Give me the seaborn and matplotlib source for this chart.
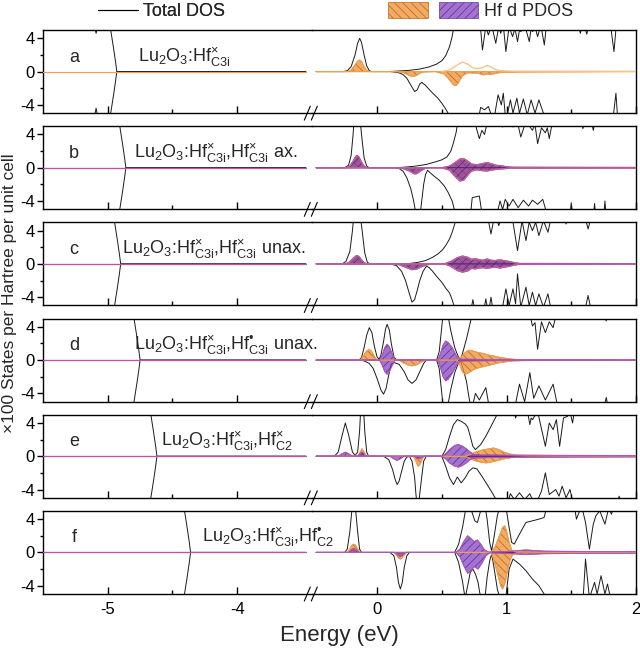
import matplotlib
matplotlib.use("Agg")
import matplotlib.pyplot as plt
import seaborn as sns
import pandas as pd
from matplotlib.patches import Patch
from matplotlib.lines import Line2D
from matplotlib.legend_handler import HandlerTuple

# ---- data: (energy eV, DOS x100 states/Hartree/cell); values > 5 run off the panel ----
# panel a  Lu2O3:Hf(x)C3i
a_tot_up = [(-5.5, 6), (-5.11, 6), (-5.09, 4.6), (-5.07, 6), (-4.99, 6), (-4.975, 4.8), (-4.955, 2.8),
            (-4.94, 1.2), (-4.93, 0), (-3.47, 0),
            (-0.47, 0), (-0.26, 0), (-0.23, 0.1), (-0.20, 0.6), (-0.17, 2.0), (-0.15, 3.4), (-0.134, 4.0),
            (-0.12, 3.5), (-0.10, 2.0), (-0.08, 0.7), (-0.06, 0.1), (-0.04, 0), (0.08, 0), (0.15, 0.05),
            (0.25, 0.15), (0.33, 0.3), (0.40, 0.55), (0.46, 0.9), (0.50, 1.3), (0.53, 1.9), (0.56, 3.0),
            (0.58, 4.2), (0.60, 6), (0.795, 6), (0.814, 2.6), (0.84, 5.4), (0.86, 4.4), (0.885, 5.6),
            (0.917, 3.4), (0.94, 5.4), (0.955, 4.6), (0.975, 5.6), (0.995, 2.4), (1.02, 5.4), (1.047, 4.2),
            (1.065, 5.2), (1.085, 3.6), (1.10, 5.0), (1.111, 4.8), (1.14, 5.6), (1.176, 3.6), (1.19, 5.2),
            (1.202, 4.8), (1.22, 5.4), (1.24, 4.2), (1.265, 5.6), (1.292, 3.2), (1.31, 5.8), (1.33, 6),
            (1.55, 6), (1.57, 4.6), (1.59, 6), (1.62, 4.5), (1.64, 6), (1.80, 6), (1.83, 2.4), (1.85, 6),
            (2.0, 6)]
a_tot_dn = [(-5.5, -6), (-5.11, -6), (-5.09, -4.4), (-5.07, -6), (-4.99, -6), (-4.975, -4.8),
            (-4.955, -2.8), (-4.94, -1.2), (-4.93, 0), (-3.47, 0),
            (-0.47, 0), (0.10, 0), (0.16, -0.1), (0.20, -0.35), (0.23, -0.8), (0.26, -1.6), (0.29, -2.4),
            (0.31, -2.2), (0.33, -1.5), (0.345, -1.3), (0.37, -1.6), (0.40, -2.1), (0.43, -2.6), (0.47, -3.2),
            (0.50, -3.8), (0.53, -4.5), (0.56, -5.3), (0.58, -6), (0.78, -6), (0.80, -4.3), (0.83, -4.6),
            (0.86, -4.2), (0.90, -6), (0.935, -2.8), (0.96, -4.0), (0.975, -2.6), (0.995, -6), (1.03, -3.4),
            (1.05, -5.0), (1.08, -3.2), (1.10, -5.0), (1.13, -3.3), (1.16, -5.2), (1.19, -3.4), (1.22, -5.0),
            (1.25, -3.4), (1.28, -4.8), (1.31, -6), (1.82, -6), (1.845, -2.6), (1.86, -6), (2.0, -6)]
a_or_up = [(-5.5, 0), (-3.47, 0), (-0.47, 0), (-0.23, 0), (-0.20, 0.2), (-0.17, 0.8), (-0.15, 1.25),
           (-0.135, 1.4), (-0.12, 1.2), (-0.10, 0.6), (-0.08, 0.15), (-0.06, 0), (2.0, 0)]
a_or_dn = [(-5.5, 0), (-3.47, 0), (-0.47, 0), (0.15, 0), (0.20, -0.1), (0.24, -0.4), (0.27, -0.6), (0.30, -0.5),
           (0.33, -0.2), (0.36, -0.05), (0.45, 0), (0.52, -0.3), (0.56, -1.0), (0.59, -1.6), (0.61, -1.7),
           (0.63, -1.3), (0.66, -0.5), (0.70, -0.15), (0.78, -0.2), (0.82, -0.4), (0.85, -0.3), (0.88, -0.35),
           (0.92, -0.2), (0.96, -0.1), (1.1, -0.05), (2.0, 0)]
a_or_open = [(0.50, 0), (0.56, 0.2), (0.62, 0.8), (0.66, 1.15), (0.70, 0.9), (0.74, 0.45), (0.78, 0.35),
             (0.82, 0.5), (0.85, 0.75), (0.88, 0.55), (0.92, 0.2), (0.96, 0.1), (1.05, 0.05), (2.0, 0.03)]

# panel b  Lu2O3:Hf(x)C3i,Hf(x)C3i ax.
b_tot_up = [(-5.5, 6), (-4.92, 6), (-4.905, 4.8), (-4.885, 2.8), (-4.87, 1.2), (-4.86, 0), (-3.47, 0),
            (-0.47, 0), (-0.25, 0), (-0.22, 0.3), (-0.20, 1.5), (-0.185, 4), (-0.175, 6.5), (-0.155, 8),
            (-0.135, 6.5), (-0.12, 4), (-0.10, 1.2), (-0.08, 0.2), (-0.06, 0), (0.10, 0), (0.20, 0.05),
            (0.30, 0.2), (0.38, 0.4), (0.45, 0.7), (0.50, 0.95), (0.54, 1.3), (0.57, 2.0), (0.59, 3.0),
            (0.61, 4.2), (0.63, 6), (0.75, 6), (0.77, 4.6), (0.79, 3.5), (0.81, 4.5), (0.83, 4.0), (0.86, 6),
            (0.95, 6), (0.97, 4.9), (0.99, 6), (1.03, 5.6), (1.05, 4.9), (1.08, 5.8), (1.11, 3.7), (1.15, 5.6),
            (1.20, 4.5), (1.22, 5.2), (1.24, 2.9), (1.27, 4.8), (1.30, 4.2), (1.315, 4.8), (1.33, 3.5),
            (1.36, 6), (1.57, 6), (1.59, 4.7), (1.61, 6), (1.65, 6), (1.67, 4.5), (1.69, 6), (2.0, 6)]
b_tot_dn = [(-5.5, -6), (-4.92, -6), (-4.905, -4.8), (-4.885, -2.8), (-4.87, -1.2), (-4.86, 0), (-3.47, 0),
            (-0.47, 0), (0.12, 0), (0.17, -0.1), (0.20, -0.4), (0.23, -1.2), (0.26, -2.5), (0.28, -3.8),
            (0.30, -5.5), (0.31, -6), (0.33, -6), (0.345, -4), (0.36, -2), (0.375, -0.8), (0.39, -0.3),
            (0.41, -0.6), (0.44, -1.0), (0.48, -1.5), (0.52, -2.2), (0.55, -3.0), (0.58, -4.0), (0.60, -5.2),
            (0.62, -6), (0.72, -6), (0.735, -3.6), (0.79, -3.4), (0.815, -6), (0.92, -6), (0.95, -4.0),
            (0.97, -5.0), (0.99, -3.8), (1.02, -4.6), (1.05, -3.8), (1.09, -4.8), (1.13, -3.9), (1.17, -4.6),
            (1.20, -3.9), (1.24, -4.4), (1.28, -3.8), (1.32, -6), (1.49, -6), (1.50, -4.2), (1.51, -6),
            (1.67, -6), (1.68, -4.3), (1.69, -6), (1.75, -6), (1.76, -4.0), (1.77, -6), (2.0, -6)]
b_hf_up = [(-5.5, 0), (-3.47, 0), (-0.47, 0), (-0.24, 0), (-0.21, 0.2), (-0.185, 0.8), (-0.165, 1.35),
           (-0.155, 1.5), (-0.14, 1.3), (-0.12, 0.7), (-0.10, 0.2), (-0.08, 0), (0.50, 0), (0.56, 0.2),
           (0.60, 0.6), (0.64, 1.05), (0.67, 1.1), (0.70, 0.8), (0.73, 0.45), (0.77, 0.35), (0.81, 0.5),
           (0.85, 0.62), (0.88, 0.5), (0.92, 0.3), (0.96, 0.25), (1.0, 0.12), (1.05, 0.06), (1.5, 0.05),
           (2.0, 0.04)]
b_hf_dn = [(-5.5, 0), (-3.47, 0), (-0.47, 0), (0.15, 0), (0.20, -0.1), (0.25, -0.4), (0.29, -0.75),
           (0.31, -0.7), (0.34, -0.35), (0.37, -0.1), (0.40, 0), (0.50, 0), (0.56, -0.3), (0.60, -1.0),
           (0.64, -1.6), (0.67, -1.5), (0.70, -0.9), (0.73, -0.4), (0.77, -0.25), (0.81, -0.35), (0.85, -0.4),
           (0.88, -0.3), (0.92, -0.2), (0.96, -0.15), (1.0, -0.1), (1.05, -0.06), (2.0, -0.04)]

# panel c  Lu2O3:Hf(x)C3i,Hf(x)C3i unax.
c_tot_up = [(-5.5, 6), (-4.96, 6), (-4.945, 4.8), (-4.925, 2.8), (-4.91, 1.2), (-4.90, 0), (-3.47, 0),
            (-0.47, 0), (-0.27, 0), (-0.24, 0.3), (-0.21, 1.5), (-0.19, 4), (-0.175, 6.5), (-0.155, 8),
            (-0.135, 6.5), (-0.115, 4), (-0.095, 1.3), (-0.075, 0.2), (-0.055, 0), (0.15, 0), (0.25, 0.05),
            (0.32, 0.2), (0.375, 0.4), (0.43, 0.8), (0.47, 1.2), (0.50, 1.6), (0.53, 2.2), (0.56, 3.0),
            (0.58, 3.8), (0.60, 4.8), (0.62, 6), (0.85, 6), (0.88, 3.6), (0.91, 6), (0.94, 4.6), (0.97, 6),
            (1.04, 6), (1.085, 1.6), (1.12, 5.2), (1.15, 2.8), (1.175, 5.0), (1.20, 4.0), (1.225, 5.0),
            (1.25, 3.4), (1.285, 5.2), (1.32, 3.8), (1.35, 6), (1.44, 6), (1.46, 4.8), (1.48, 6), (1.60, 6),
            (1.63, 4.2), (1.66, 6), (2.0, 6)]
c_tot_dn = [(-5.5, -6), (-4.96, -6), (-4.945, -4.8), (-4.925, -2.8), (-4.91, -1.2), (-4.90, 0), (-3.47, 0),
            (-0.47, 0), (0.10, 0), (0.15, -0.2), (0.19, -0.9), (0.22, -2.0), (0.25, -3.6), (0.27, -4.6),
            (0.29, -4.3), (0.31, -3.2), (0.33, -2.0), (0.355, -0.9), (0.38, -0.3), (0.40, -0.4), (0.43, -0.9),
            (0.46, -1.5), (0.50, -2.2), (0.53, -2.9), (0.56, -3.5), (0.58, -4.3), (0.60, -5.3), (0.62, -6),
            (0.72, -6), (0.74, -4.3), (0.76, -6), (0.82, -6), (0.84, -4.2), (0.86, -6), (0.88, -4.0),
            (0.90, -6), (0.96, -6), (0.995, -3.0), (1.02, -5.0), (1.05, -3.0), (1.07, -4.8), (1.085, -1.2),
            (1.11, -5.2), (1.15, -2.8), (1.175, -5.0), (1.20, -3.4), (1.225, -5.0), (1.25, -3.6),
            (1.285, -5.2), (1.32, -3.6), (1.35, -6), (1.60, -6), (1.63, -3.8), (1.66, -6), (2.0, -6)]
c_hf_up = [(-5.5, 0), (-3.47, 0), (-0.47, 0), (-0.25, 0), (-0.22, 0.15), (-0.19, 0.6), (-0.165, 0.95),
           (-0.155, 1.0), (-0.14, 0.9), (-0.12, 0.5), (-0.10, 0.15), (-0.08, 0), (0.52, 0), (0.57, 0.3),
           (0.62, 0.75), (0.66, 0.95), (0.70, 0.8), (0.73, 0.55), (0.76, 0.65), (0.79, 0.5), (0.82, 0.45),
           (0.85, 0.6), (0.88, 0.45), (0.91, 0.4), (0.95, 0.5), (0.98, 0.4), (1.02, 0.3), (1.06, 0.15),
           (1.10, 0.06), (2.0, 0.04)]
c_hf_dn = [(-5.5, 0), (-3.47, 0), (-0.47, 0), (0.12, 0), (0.17, -0.1), (0.22, -0.4), (0.27, -0.7),
           (0.31, -0.6), (0.35, -0.3), (0.39, -0.1), (0.42, 0), (0.52, 0), (0.57, -0.3), (0.62, -0.8),
           (0.66, -1.0), (0.70, -0.85), (0.73, -0.55), (0.76, -0.6), (0.79, -0.5), (0.82, -0.45), (0.85, -0.55),
           (0.88, -0.45), (0.91, -0.4), (0.95, -0.5), (0.98, -0.4), (1.02, -0.3), (1.06, -0.15), (1.10, -0.06),
           (2.0, -0.04)]

# panel d  Lu2O3:Hf(x)C3i,Hf(*)C3i unax.
d_tot_up = [(-5.5, 6), (-4.81, 6), (-4.795, 4.8), (-4.775, 2.8), (-4.76, 1.2), (-4.75, 0), (-3.47, 0),
            (-0.47, 0), (-0.14, 0), (-0.12, 0.3), (-0.10, 1.5), (-0.08, 3.0), (-0.06, 3.9), (-0.04, 3.3),
            (-0.02, 1.6), (0.0, 0.4), (0.015, 0.1), (0.03, 0.6), (0.05, 2.2), (0.065, 3.7), (0.078, 4.3),
            (0.095, 3.6), (0.11, 2.0), (0.13, 0.4), (0.15, 0), (0.46, 0), (0.48, 1.0), (0.50, 4), (0.52, 7),
            (0.54, 6), (0.57, 3.5), (0.60, 1.5), (0.63, 0.3), (0.645, 0.1), (0.66, 0.8), (0.69, 2.5),
            (0.72, 4.5), (0.74, 6), (0.82, 6), (0.84, 4.9), (0.86, 6), (1.08, 6), (1.10, 4.9), (1.12, 6),
            (1.18, 5.6), (1.20, 4.1), (1.22, 4.5), (1.24, 1.3), (1.27, 4.6), (1.30, 3.3), (1.33, 4.6),
            (1.36, 3.9), (1.39, 6), (1.75, 6), (1.77, 4.7), (1.79, 6), (2.0, 6)]
d_tot_dn = [(-5.5, -6), (-4.81, -6), (-4.795, -4.8), (-4.775, -2.8), (-4.76, -1.2), (-4.75, 0), (-3.47, 0),
            (-0.47, 0), (-0.13, 0), (-0.10, -0.1), (-0.06, -0.4), (-0.03, -1.0), (0.0, -2.2), (0.03, -3.6),
            (0.05, -4.1), (0.07, -3.4), (0.09, -1.8), (0.11, -0.5), (0.13, -0.3), (0.17, -0.5), (0.21, -1.4),
            (0.24, -2.4), (0.27, -2.8), (0.30, -2.4), (0.33, -1.4), (0.36, -0.4), (0.38, 0), (0.46, 0),
            (0.48, -1.0), (0.50, -4), (0.52, -7), (0.54, -6), (0.57, -3.5), (0.60, -1.5), (0.63, -0.3),
            (0.645, -0.1), (0.66, -0.8), (0.69, -2.5), (0.71, -4.5), (0.73, -6), (0.76, -4.0), (0.79, -4.8),
            (0.84, -3.3), (0.87, -6), (1.06, -6), (1.10, -2.9), (1.14, -5.0), (1.18, -1.5), (1.21, -4.6),
            (1.25, -3.1), (1.30, -4.8), (1.36, -2.9), (1.40, -6), (1.75, -6), (1.77, -4.5), (1.79, -6),
            (2.0, -6)]
d_or_up = [(-5.5, 0), (-3.47, 0), (-0.47, 0), (-0.13, 0), (-0.11, 0.4), (-0.08, 1.1), (-0.06, 1.3),
           (-0.04, 1.0), (-0.02, 0.4), (0.0, 0), (0.62, 0), (0.65, 0.4), (0.68, 0.9), (0.71, 1.2), (0.74, 1.1),
           (0.78, 0.9), (0.82, 0.8), (0.86, 0.6), (0.90, 0.5), (0.94, 0.35), (0.98, 0.25), (1.02, 0.15),
           (1.07, 0.08), (1.2, 0.04), (2.0, 0.02)]
d_or_dn = [(-5.5, 0), (-3.47, 0), (-0.47, 0), (0.17, 0), (0.20, -0.3), (0.24, -0.6), (0.27, -0.7),
           (0.31, -0.55), (0.34, -0.25), (0.37, 0), (0.62, 0), (0.64, -0.6), (0.66, -1.4), (0.68, -1.7),
           (0.71, -1.5), (0.75, -1.1), (0.79, -0.9), (0.83, -0.75), (0.87, -0.6), (0.91, -0.45), (0.95, -0.3),
           (1.0, -0.2), (1.05, -0.1), (1.2, -0.04), (2.0, -0.02)]
d_pu_up = [(-5.5, 0), (-3.47, 0), (-0.47, 0), (0.02, 0), (0.04, 0.6), (0.06, 1.5), (0.078, 1.9),
           (0.095, 1.6), (0.115, 0.8), (0.14, 0), (0.47, 0), (0.49, 0.8), (0.51, 1.8), (0.53, 2.3),
           (0.55, 2.1), (0.58, 1.5), (0.61, 0.6), (0.64, 0.1), (0.70, 0.1), (1.0, 0.05), (2.0, 0.03)]
d_pu_dn = [(-5.5, 0), (-3.47, 0), (-0.47, 0), (0.02, 0), (0.04, -0.6), (0.06, -1.4), (0.078, -1.7),
           (0.095, -1.4), (0.115, -0.7), (0.14, 0), (0.47, 0), (0.49, -0.9), (0.51, -2.0), (0.53, -2.5),
           (0.55, -2.3), (0.58, -1.6), (0.61, -0.7), (0.64, -0.1), (0.70, -0.1), (1.0, -0.05), (2.0, -0.03)]

# panel e  Lu2O3:Hf(x)C3i,Hf(x)C2
e_tot_up = [(-5.5, 6), (-4.68, 6), (-4.665, 4.8), (-4.645, 2.8), (-4.63, 1.2), (-4.62, 0), (-3.47, 0),
            (-0.47, 0), (-0.33, 0), (-0.30, 0.5), (-0.27, 2.5), (-0.245, 4.0), (-0.22, 2.6), (-0.19, 0.5),
            (-0.17, 0.1), (-0.15, 0.5), (-0.135, 3), (-0.125, 6), (-0.105, 6), (-0.095, 3), (-0.08, 0.5),
            (-0.065, 0), (0.50, 0), (0.53, 0.8), (0.56, 2.4), (0.59, 3.8), (0.62, 4.4), (0.65, 4.2),
            (0.68, 3.9), (0.70, 3.5), (0.72, 2.4), (0.74, 1.2), (0.76, 0.8), (0.80, 1.4), (0.84, 2.4),
            (0.88, 3.6), (0.92, 4.8), (0.94, 6), (1.05, 6), (1.07, 4.6), (1.10, 6), (1.16, 5.6), (1.18, 3.8),
            (1.19, 4.6), (1.20, 4.4), (1.24, 5.4), (1.30, 1.2), (1.33, 4.0), (1.36, 3.2), (1.385, 4.4),
            (1.41, 1.2), (1.44, 4.6), (1.47, 4.8), (1.49, 5.4), (1.51, 4.0), (1.53, 6), (2.0, 6)]
e_tot_dn = [(-5.5, -6), (-4.68, -6), (-4.665, -4.8), (-4.645, -2.8), (-4.63, -1.2), (-4.62, 0), (-3.47, 0),
            (-0.47, 0), (0.05, 0), (0.09, -0.4), (0.12, -1.6), (0.14, -2.8), (0.155, -3.4), (0.17, -3.0),
            (0.19, -1.8), (0.21, -0.6), (0.23, -0.1), (0.25, 0), (0.27, -0.6), (0.29, -2.5), (0.30, -4.5),
            (0.31, -6), (0.32, -6), (0.33, -4.5), (0.345, -2.5), (0.36, -0.6), (0.38, 0), (0.50, 0),
            (0.53, -1.2), (0.56, -2.6), (0.59, -3.4), (0.62, -2.5), (0.65, -3.2), (0.68, -2.6), (0.71, -1.8),
            (0.74, -1.4), (0.77, -1.5), (0.81, -2.4), (0.85, -3.4), (0.89, -4.4), (0.93, -5.5), (0.95, -6),
            (1.0, -6), (1.03, -4.5), (1.06, -5.2), (1.10, -4.4), (1.14, -5.2), (1.18, -4.5), (1.22, -6),
            (1.27, -4.2), (1.30, -2.0), (1.33, -4.6), (1.38, -4.0), (1.405, -4.8), (1.43, -3.6), (1.46, -5.0),
            (1.49, -4.0), (1.52, -6), (1.85, -6), (1.87, -4.8), (1.89, -6), (2.0, -6)]
e_or_up = [(-5.5, 0), (-3.47, 0), (-0.47, 0), (-0.15, 0), (-0.13, 0.5), (-0.116, 0.9), (-0.10, 0.5),
           (-0.085, 0), (0.68, 0), (0.72, 0.2), (0.76, 0.5), (0.80, 0.7), (0.85, 0.85), (0.90, 1.0),
           (0.94, 0.8), (0.98, 0.5), (1.02, 0.3), (1.06, 0.15), (1.15, 0.1), (1.5, 0.06), (2.0, 0.04)]
e_or_dn = [(-5.5, 0), (-3.47, 0), (-0.47, 0), (0.28, 0), (0.295, -0.4), (0.31, -1.0), (0.32, -1.2),
           (0.335, -0.9), (0.35, -0.3), (0.365, 0), (0.68, 0), (0.72, -0.3), (0.76, -0.55), (0.80, -0.7),
           (0.84, -0.8), (0.88, -0.7), (0.92, -0.55), (0.96, -0.4), (1.0, -0.25), (1.05, -0.15),
           (1.15, -0.1), (1.5, -0.06), (2.0, -0.04)]
e_pu_up = [(-5.5, 0), (-3.47, 0), (-0.47, 0), (-0.30, 0), (-0.27, 0.3), (-0.245, 0.5), (-0.22, 0.3),
           (-0.19, 0), (-0.15, 0), (-0.13, 0.35), (-0.116, 0.5), (-0.10, 0.35), (-0.085, 0), (0.50, 0),
           (0.53, 0.3), (0.56, 0.8), (0.60, 1.3), (0.63, 1.4), (0.66, 1.2), (0.69, 0.9), (0.72, 0.5),
           (0.75, 0.2), (0.80, 0.15), (0.9, 0.15), (1.0, 0.12), (1.2, 0.12), (1.5, 0.1), (2.0, 0.08)]
e_pu_dn = [(-5.5, 0), (-3.47, 0), (-0.47, 0), (0.10, 0), (0.13, -0.3), (0.155, -0.5), (0.18, -0.3),
           (0.21, 0), (0.29, 0), (0.31, -0.25), (0.32, -0.3), (0.335, -0.25), (0.36, 0), (0.50, 0),
           (0.53, -0.3), (0.56, -0.8), (0.60, -1.2), (0.63, -1.3), (0.66, -1.1), (0.69, -0.8), (0.72, -0.4),
           (0.75, -0.2), (0.9, -0.15), (1.2, -0.12), (1.5, -0.1), (2.0, -0.08)]

# panel f  Lu2O3:Hf(x)C3i,Hf(*)C2
f_tot_up = [(-5.5, 6), (-4.42, 6), (-4.405, 4.8), (-4.385, 2.8), (-4.37, 1.2), (-4.36, 0), (-3.47, 0),
            (-0.47, 0), (-0.25, 0), (-0.23, 0.4), (-0.21, 2.5), (-0.195, 5), (-0.18, 6.5), (-0.165, 5),
            (-0.15, 2.5), (-0.135, 0.4), (-0.12, 0), (0.60, 0), (0.63, 1.0), (0.66, 3.0), (0.68, 4.8),
            (0.70, 6), (0.73, 5.0), (0.755, 3.8), (0.775, 3.6), (0.80, 5.0), (0.83, 6), (0.85, 4),
            (0.87, 1.2), (0.885, 0.2), (0.90, 1.5), (0.93, 4.5), (0.96, 6), (0.99, 6), (1.02, 3), (1.04, 1.2),
            (1.06, 1.0), (1.10, 2.2), (1.15, 3.6), (1.20, 3.8), (1.25, 4.0), (1.29, 4.2), (1.32, 6),
            (1.52, 6), (1.54, 4.0), (1.58, 5.6), (1.61, 3.6), (1.64, 0.4), (1.67, 3.4), (1.69, 4.4),
            (1.72, 5.0), (1.76, 3.4), (1.79, 5.4), (1.81, 4.6), (1.84, 6), (2.0, 6)]
f_tot_dn = [(-5.5, -6), (-4.42, -6), (-4.405, -4.8), (-4.385, -2.8), (-4.37, -1.2), (-4.36, 0), (-3.47, 0),
            (-0.47, 0), (0.10, 0), (0.13, -0.4), (0.15, -1.8), (0.165, -3.6), (0.18, -4.4), (0.195, -3.6),
            (0.21, -1.8), (0.23, -0.4), (0.25, 0), (0.60, 0), (0.63, -1.2), (0.66, -3.5), (0.68, -5.5),
            (0.70, -4.0), (0.72, -2.4), (0.74, -2.0), (0.76, -2.6), (0.78, -3.6), (0.80, -5.5), (0.83, -6),
            (0.85, -3), (0.87, -1.0), (0.885, -0.2), (0.90, -1.5), (0.93, -4.5), (0.96, -6), (0.99, -6),
            (1.02, -2), (1.05, -0.8), (1.10, -1.4), (1.15, -2.2), (1.20, -3.2), (1.25, -4.0), (1.29, -5.0),
            (1.32, -6), (1.59, -6), (1.61, -0.8), (1.64, -5.5), (1.68, -3.6), (1.70, -5.0), (1.73, -2.8),
            (1.76, -5.0), (1.78, -3.8), (1.81, -6), (2.0, -6)]
f_or_up = [(-5.5, 0), (-3.47, 0), (-0.47, 0), (-0.23, 0), (-0.21, 0.4), (-0.195, 0.85), (-0.18, 1.0),
           (-0.165, 0.85), (-0.15, 0.4), (-0.13, 0), (0.88, 0), (0.91, 0.6), (0.94, 1.8), (0.97, 3.0),
           (0.985, 3.2), (1.00, 2.6), (1.02, 1.2), (1.04, 0.3), (1.06, 0.1), (1.2, 0.05), (2.0, 0.02)]
f_or_dn = [(-5.5, 0), (-3.47, 0), (-0.47, 0), (0.13, 0), (0.15, -0.3), (0.165, -0.65), (0.18, -0.8),
           (0.195, -0.65), (0.21, -0.3), (0.23, 0), (0.88, 0), (0.90, -0.8), (0.93, -2.5), (0.955, -4.0),
           (0.97, -4.4), (0.99, -3.6), (1.01, -2.0), (1.03, -0.8), (1.05, -0.2), (1.08, -0.05), (2.0, -0.02)]
f_pu_up = [(-5.5, 0), (-3.47, 0), (-0.47, 0), (-0.22, 0), (-0.20, 0.3), (-0.18, 0.5), (-0.16, 0.3),
           (-0.14, 0), (0.61, 0), (0.64, 0.4), (0.67, 1.3), (0.70, 2.0), (0.73, 1.6), (0.75, 1.3),
           (0.775, 1.5), (0.80, 1.0), (0.83, 0.3), (0.86, 0.05), (1.0, 0.1), (1.08, 0.2), (1.15, 0.3),
           (1.22, 0.22), (1.3, 0.15), (1.5, 0.12), (1.7, 0.1), (2.0, 0.1)]
f_pu_dn = [(-5.5, 0), (-3.47, 0), (-0.47, 0), (0.14, 0), (0.16, -0.3), (0.18, -0.5), (0.20, -0.3),
           (0.22, 0), (0.61, 0), (0.64, -0.5), (0.67, -1.6), (0.70, -2.5), (0.72, -2.3), (0.75, -1.7),
           (0.78, -2.0), (0.81, -1.3), (0.84, -0.4), (0.87, -0.05), (1.0, -0.1), (1.08, -0.2), (1.15, -0.25),
           (1.22, -0.2), (1.3, -0.15), (1.5, -0.12), (2.0, -0.1)]

letters = ["a", "b", "c", "d", "e", "f"]
labels = [r"Lu$_2$O$_3$:Hf$^{×}_{\mathrm{C3i}}$",
          r"Lu$_2$O$_3$:Hf$^{×}_{\mathrm{C3i}}$,Hf$^{×}_{\mathrm{C3i}}$ ax.",
          r"Lu$_2$O$_3$:Hf$^{×}_{\mathrm{C3i}}$,Hf$^{×}_{\mathrm{C3i}}$ unax.",
          r"Lu$_2$O$_3$:Hf$^{×}_{\mathrm{C3i}}$,Hf$^{•}_{\mathrm{C3i}}$ unax.",
          r"Lu$_2$O$_3$:Hf$^{×}_{\mathrm{C3i}}$,Hf$^{×}_{\mathrm{C2}}$",
          r"Lu$_2$O$_3$:Hf$^{×}_{\mathrm{C3i}}$,Hf$^{•}_{\mathrm{C2}}$"]
label_x = [-4.77, -4.80, -4.89, -4.80, -4.59, -4.27]

tot_up = [a_tot_up, b_tot_up, c_tot_up, d_tot_up, e_tot_up, f_tot_up]
tot_dn = [a_tot_dn, b_tot_dn, c_tot_dn, d_tot_dn, e_tot_dn, f_tot_dn]
orange = [(a_or_up, a_or_dn), (b_hf_up, b_hf_dn), (c_hf_up, c_hf_dn), (d_or_up, d_or_dn),
          (e_or_up, e_or_dn), (f_or_up, f_or_dn)]
purple = [None, (b_hf_up, b_hf_dn), (c_hf_up, c_hf_dn), (d_pu_up, d_pu_dn),
          (e_pu_up, e_pu_dn), (f_pu_up, f_pu_dn)]

# ---- style ----
sns.set_theme(style="ticks", rc={"axes.edgecolor": "black", "xtick.color": "black",
                                 "ytick.color": "black", "axes.linewidth": 1.0})
plt.rcParams["font.family"] = ["Liberation Sans", "DejaVu Sans"]
plt.rcParams["mathtext.fontset"] = "custom"
plt.rcParams["mathtext.rm"] = "Liberation Sans"
plt.rcParams["mathtext.it"] = "Liberation Sans:italic"
plt.rcParams["mathtext.bf"] = "Liberation Sans:bold"
plt.rcParams["axes.unicode_minus"] = False
plt.rcParams["hatch.linewidth"] = 0.6

OR_FACE, OR_EDGE, OR_LINE, OR_ALPHA = "#f0963c", "#b0601a", "#f2a04e", 0.8
PU_FACE, PU_EDGE, PU_LINE, PU_ALPHA = "#7328b9", "#40177a", "#b058b8", 0.65


def split(pts):
    df = pd.DataFrame(pts, columns=["E", "dos"])
    return df[df.E < -2], df[df.E > -2]


def draw_line(axes, pts, color, lw, z):
    for ax, part in zip(axes, split(pts)):
        sns.lineplot(data=part, x="E", y="dos", ax=ax, color=color, lw=lw,
                     estimator=None, sort=False, zorder=z)


def draw_fill(axes, pts, face, edge, hatch, alpha):
    for ax, part in zip(axes, split(pts)):
        ax.fill_between(part.E, part.dos, 0, facecolor=face, edgecolor=edge, hatch=hatch,
                        lw=0.5, alpha=alpha, zorder=3)


fig = plt.figure(figsize=(6.4, 6.56), dpi=100)
gs = fig.add_gridspec(6, 2, width_ratios=[2.08, 2.5], left=43 / 640, right=636 / 640,
                      top=1 - 30 / 656, bottom=1 - 594 / 656, wspace=0, hspace=13 / 83)

for i in range(6):
    axl = fig.add_subplot(gs[i, 0])
    axr = fig.add_subplot(gs[i, 1])
    axr.patch.set_visible(False)
    axes = (axl, axr)

    draw_line(axes, tot_up[i], "#1a1a1a", 0.7, 2)
    draw_line(axes, tot_dn[i], "#1a1a1a", 0.7, 2)
    up, dn = orange[i]
    draw_fill(axes, up, OR_FACE, OR_EDGE, "\\\\\\\\", OR_ALPHA)
    draw_fill(axes, dn, OR_FACE, OR_EDGE, "\\\\\\\\", OR_ALPHA)
    if purple[i] is not None:
        up, dn = purple[i]
        draw_fill(axes, up, PU_FACE, PU_EDGE, "////", PU_ALPHA)
        draw_fill(axes, dn, PU_FACE, PU_EDGE, "////", PU_ALPHA)
    draw_line(axes, orange[i][0], OR_LINE, 0.8, 4)
    draw_line(axes, orange[i][1], OR_LINE, 0.8, 4)
    if purple[i] is not None:
        draw_line(axes, purple[i][0], PU_LINE, 0.8, 4)
        draw_line(axes, purple[i][1], PU_LINE, 0.8, 4)
    if i == 0:
        draw_line(axes, a_or_open, "#f8c48c", 1.0, 4)

    axl.set_xlim(-5.5, -3.42)
    axr.set_xlim(-0.5, 2.0)
    for ax in axes:
        ax.set_ylim(-5, 5)
        ax.set_xlabel("")
        ax.set_ylabel("")
        ax.tick_params(axis="x", which="both", direction="in", top=False, labelsize=12, width=1.0,
                       labelbottom=(i == 5), pad=6)
        ax.tick_params(axis="x", which="major", length=5)
        ax.tick_params(axis="x", which="minor", length=3)
    axl.set_xticks([-5, -4])
    axl.set_xticks([-4.5], minor=True)
    axr.set_xticks([0, 1, 2])
    axr.set_xticks([0.5, 1.5], minor=True)
    axl.set_yticks([-4, 0, 4])
    axl.set_yticks([-2, 2], minor=True)
    axl.tick_params(axis="y", which="both", direction="out", right=False, labelsize=12, width=1.0, pad=2)
    axl.tick_params(axis="y", which="major", length=4)
    axl.tick_params(axis="y", which="minor", length=2.5)
    axr.tick_params(axis="y", which="both", left=False, right=False, labelleft=False)
    axl.spines["right"].set_visible(False)
    axr.spines["left"].set_visible(False)

    axl.text(-5.26, 1.2, letters[i], fontsize=13, ha="center", va="baseline", zorder=6)
    axl.text(label_x[i], 1.2, labels[i], fontsize=13, ha="left", va="baseline", zorder=6, clip_on=False)

    # axis break marks
    pos = axl.get_position()
    X, Y = pos.x1, pos.y0
    for dx in (-8, -1):
        fig.add_artist(Line2D([X + dx / 640, X + (dx + 6) / 640], [Y - 7 / 656, Y + 7 / 656],
                              color="black", lw=0.8, transform=fig.transFigure))

fig.text(10 / 640, 1 - 293 / 656, "×100 States per Hartree per unit cell", rotation=90,
         ha="center", va="center", fontsize=12.5)
fig.text((43 + 636) / 2 / 640, 1 - 636 / 656, "Energy (eV)", ha="center", va="center", fontsize=16)

leg1 = fig.legend(handles=[Line2D([], [], color="black", lw=0.8)], labels=["Total DOS"],
                  loc="center left", bbox_to_anchor=(98 / 640, 1 - 12 / 656), frameon=False,
                  fontsize=13, handlelength=2.2, handletextpad=0.3, borderpad=0, borderaxespad=0)
fig.add_artist(leg1)
p_or = Patch(facecolor=OR_FACE, edgecolor=OR_EDGE, hatch="\\\\\\\\", alpha=OR_ALPHA, lw=0.6)
p_pu = Patch(facecolor=PU_FACE, edgecolor=PU_EDGE, hatch="////", alpha=PU_ALPHA, lw=0.6)
fig.legend(handles=[(p_or, p_pu)], labels=["Hf d PDOS"], handler_map={tuple: HandlerTuple(ndivide=None, pad=0.6)},
           loc="center left", bbox_to_anchor=(388 / 640, 1 - 11 / 656), frameon=False, fontsize=13,
           handlelength=5.0, handleheight=1.0, handletextpad=0.3, borderpad=0, borderaxespad=0)

fig.savefig("out.png", dpi=100)
